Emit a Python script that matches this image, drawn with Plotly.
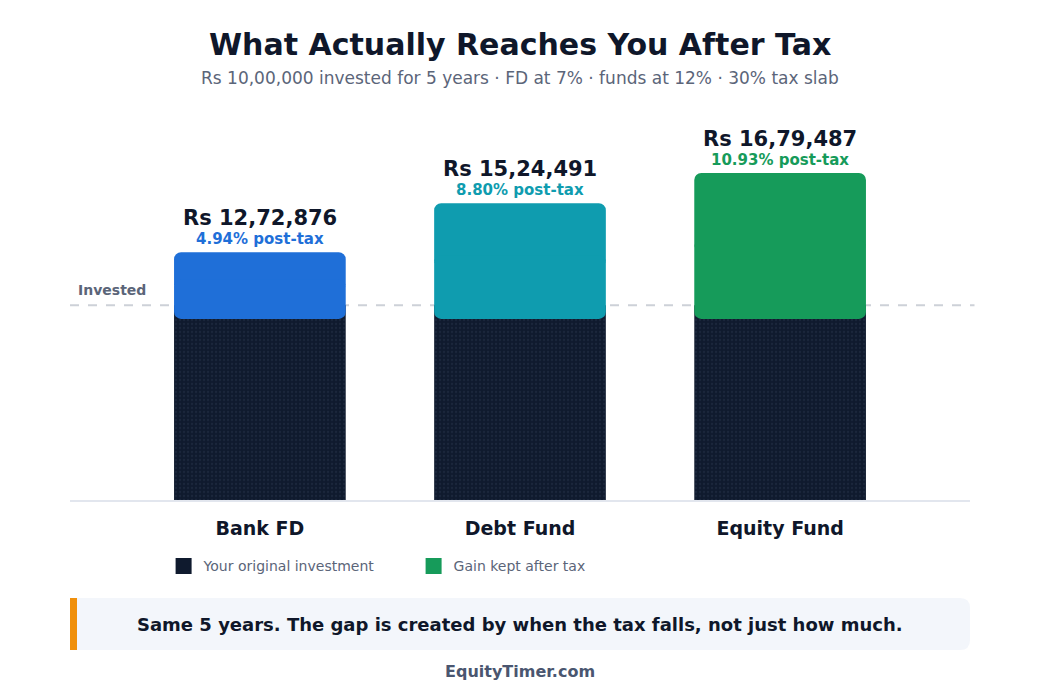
import plotly.graph_objects as go

# -----------------------
# Data
# -----------------------

funds = ["Bank FD", "Debt Fund", "Equity Fund"]
invested = [1000000, 1000000, 1000000]
final_value = [1272876, 1524491, 1679487]
value_labels = ["Rs 12,72,876", "Rs 15,24,491", "Rs 16,79,487"]
post_tax_rate = ["4.94%", "8.80%", "10.93%"]

gain_colors = ["#1F6FD8", "#0F9CAF", "#169B5A"]
dark = "#0F1A2E"
ink = "#0F172A"
muted = "#5B6579"

overlap = 70000   # gain block tucks a little below the invested line
seam = 30000      # halves of the gain block overlap so the seam is hidden

bottom = [i - overlap for i in invested]
mid = [(b + t) / 2 for b, t in zip(bottom, final_value)]

fig = go.Figure()

# original investment
fig.add_trace(go.Bar(
    x=funds, y=invested,
    marker=dict(color=dark, line_width=0,
                pattern=dict(shape=".", fgcolor="#26324a", size=4,
                             solidity=0.25, fillmode="overlay")),
    width=0.66, showlegend=False, hoverinfo="skip",
))

# gain block, drawn as two halves so both ends get rounded corners
fig.add_trace(go.Bar(
    x=funds, y=[t - m + seam for t, m in zip(final_value, mid)],
    base=[m - seam for m in mid],
    marker=dict(color=gain_colors, line_width=0),
    width=0.66, showlegend=False, hoverinfo="skip",
))
fig.add_trace(go.Bar(
    x=funds, y=[b - m - seam for b, m in zip(bottom, mid)],
    base=[m + seam for m in mid],
    marker=dict(color=gain_colors, line_width=0),
    width=0.66, showlegend=False, hoverinfo="skip",
))

# legend entries
fig.add_trace(go.Scatter(
    x=[None], y=[None], mode="markers", name="Your original investment",
    marker=dict(symbol="square", size=16, color=dark),
))
fig.add_trace(go.Scatter(
    x=[None], y=[None], mode="markers", name="Gain kept after tax",
    marker=dict(symbol="square", size=16, color="#169B5A"),
))

# value labels above each bar
for f, v, lab, r, c in zip(funds, final_value, value_labels, post_tax_rate, gain_colors):
    fig.add_annotation(x=f, y=v, text=lab,
        showarrow=False, yanchor="middle", yshift=34,
        font=dict(size=21, color=ink, family="DejaVu Sans", weight="bold"))
    fig.add_annotation(x=f, y=v, text=f"{r} post-tax",
        showarrow=False, yanchor="middle", yshift=13,
        font=dict(size=15, color=c, family="DejaVu Sans", weight="bold"))

# invested reference line
fig.add_shape(type="line", xref="paper", x0=0, x1=1.005, yref="y",
              y0=invested[0], y1=invested[0], layer="below",
              line=dict(color="#CDD1D8", width=2, dash="dash"))
fig.add_annotation(xref="paper", x=0, xanchor="left", xshift=6,
                   y=invested[0], yshift=15, text="Invested", showarrow=False,
                   font=dict(size=14, color=muted, family="DejaVu Sans", weight="bold"))

# takeaway box
fig.add_shape(type="path", xref="paper", yref="paper",
              xsizemode="pixel", ysizemode="pixel", xanchor=0, yanchor=-0.2513,
              path="M0,0 L890,0 Q900,0 900,-10 L900,-42 Q900,-52 890,-52 L0,-52 Z",
              fillcolor="#F3F6FB", line_width=0)
fig.add_shape(type="rect", xref="paper", yref="paper",
              x0=0, x1=0.0078, y0=-0.2513, y1=-0.3846,
              fillcolor="#F0900C", line_width=0)
fig.add_annotation(xref="paper", yref="paper", x=0.5, y=-0.318, yanchor="middle",
                   text="Same 5 years. The gap is created by when the tax falls, not just how much.",
                   showarrow=False,
                   font=dict(size=18, color=ink, family="DejaVu Sans", weight="bold"))
fig.add_annotation(xref="paper", yref="paper", x=0.5, y=-0.440, yanchor="middle",
                   text="EquityTimer.com", showarrow=False,
                   font=dict(size=16, color="#4A5670", family="DejaVu Sans", weight="bold"))

# title
fig.add_annotation(xref="paper", yref="paper", x=0.5, y=1, yshift=66, yanchor="middle",
                   text="What Actually Reaches You After Tax", showarrow=False,
                   font=dict(size=30, color=ink, family="DejaVu Sans", weight="bold"))
fig.add_annotation(xref="paper", yref="paper", x=0.5, y=1, yshift=32, yanchor="middle",
                   text="Rs 10,00,000 invested for 5 years · FD at 7% · funds at 12% · 30% tax slab",
                   showarrow=False,
                   font=dict(size=17, color=muted, family="DejaVu Sans"))

# page body has an 8px margin, so the figure is sized and offset to make up for it
fig.update_layout(
    width=1032, height=692,
    margin=dict(l=62, r=70, t=102, b=200),
    paper_bgcolor="white", plot_bgcolor="white",
    barmode="overlay", barcornerradius=7,
    font=dict(family="DejaVu Sans", color=ink),
    legend=dict(orientation="h", x=0.104, y=-0.17, yanchor="middle",
                entrywidth=205, entrywidthmode="pixels",
                font=dict(size=14, color=muted), bgcolor="rgba(0,0,0,0)"),
    xaxis=dict(type="category", categoryorder="array", categoryarray=funds,
               range=[-0.73, 2.73], showgrid=False, zeroline=False,
               showline=True, linecolor="#E2E6EE", linewidth=2,
               ticks="", ticklabelstandoff=10,
               tickfont=dict(size=19, color=ink, family="DejaVu Sans", weight="bold")),
    yaxis=dict(range=[0, 2003000], visible=False, fixedrange=True),
)

fig.write_html("out.html")
